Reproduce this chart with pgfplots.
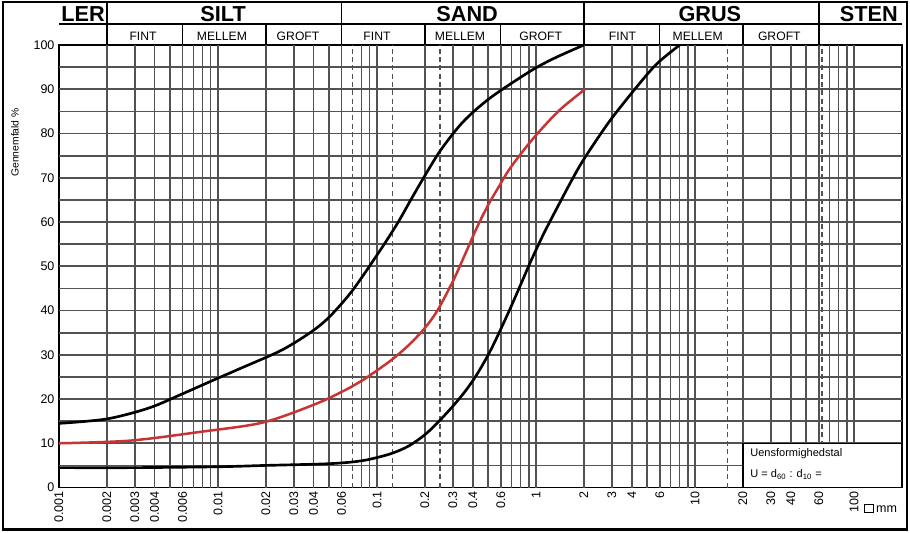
\documentclass[border=0pt]{standalone}
\usepackage{pgfplots}
\pgfplotsset{compat=1.18}
\usepackage{fontspec}
\setmainfont{Liberation Sans}
\definecolor{gridc}{gray}{0.32}
\definecolor{redc}{RGB}{200,52,52}

\pgfplotstableread{
d p
0.001 14.5
0.002 15.5
0.0037 18.0
0.006 21.2
0.009 24.0
0.014 27.0
0.025 31.0
0.038 35.0
0.05 38.5
0.07 44.5
0.1047 53.6
0.135 59.8
0.162 64.8
0.195 69.8
0.251 76.2
0.347 82.6
0.513 88.0
0.912 94.0
1.30 97.0
2.0 100
}\finetab
\pgfplotstableread{
d p
0.001 10.0
0.0028 10.6
0.0078 12.6
0.0192 14.7
0.0419 19.0
0.0678 22.6
0.0817 24.3
0.121 28.6
0.1585 32.2
0.1995 36.0
0.2399 40.0
0.302 46.8
0.357 52.6
0.4256 58.8
0.501 63.9
0.569 67.3
0.6855 72.1
0.916 78.0
1.202 82.8
1.479 86.0
2.03 90.0
}\midtab
\pgfplotstableread{
d p
0.001 4.5
0.003 4.5
0.01 4.7
0.02 5.0
0.0506 5.4
0.0817 6.1
0.121 7.6
0.1585 9.4
0.1995 11.9
0.2399 14.6
0.302 18.5
0.3631 22.0
0.4256 25.6
0.501 30.0
0.569 34.0
0.6855 40.3
0.813 46.4
0.916 50.7
1.072 56.0
1.219 60.0
1.641 68.8
2.0 74.2
2.917 82.9
4.498 91.4
5.848 96.0
8.0 100
}\coarsetab

\begin{document}
\begin{tikzpicture}
\begin{axis}[
  xmode=log, xmin=0.001, xmax=200, ymin=0, ymax=100,
  scale only axis, width=505.2pt, height=265.2pt,
  clip=false,
  axis line style={line width=0.9pt, black},
  ytick={0,10,20,30,40,50,60,70,80,90,100},
  xtick={0.001,0.002,0.003,0.004,0.006,0.01,0.02,0.03,0.04,0.06,0.1,0.2,0.3,0.4,0.6,1,2,3,4,6,10,20,30,40,60,100},
  xticklabels={0.001,0.002,0.003,0.004,0.006,0.01,0.02,0.03,0.04,0.06,0.1,0.2,0.3,0.4,0.6,1,2,3,4,6,10,20,30,40,60,100},
  major tick length=0pt, minor tick length=0pt,
  /pgf/number format/assume math mode=true,
  every tick label/.append style={font=\fontsize{7.5}{9}\selectfont},
  xticklabel style={rotate=90, anchor=east, inner sep=2pt},
  yticklabel style={inner sep=2.5pt},
]
% horizontal grid
\pgfplotsinvokeforeach{5,10,15,20,25,30,35,40,45,50,55,60,65,70,75,80,85,90,95}{
  \draw[gridc, line width=1pt] (axis cs:0.001,#1) -- (axis cs:200,#1);
}
% vertical grid solid
\pgfplotsinvokeforeach{0.002,0.003,0.004,0.005,0.006,0.007,0.008,0.009,0.01,0.02,0.03,0.04,0.05,0.06,0.08,0.09,0.1,0.2,0.3,0.4,0.5,0.6,0.7,0.8,0.9,1,2,3,4,5,6,7,8,9,10,20,30,40,50,60,70,80,90,100}{
  \draw[gridc, line width=0.95pt] (axis cs:#1,0) -- (axis cs:#1,100);
}
% vertical grid dashed
\pgfplotsinvokeforeach{0.07,0.125,0.25,16,63}{
  \draw[gridc, line width=0.95pt, dash pattern=on 3pt off 2pt] (axis cs:#1,0) -- (axis cs:#1,100);
}
% box
\draw[fill=white, line width=0.9pt] (axis cs:20,0) rectangle (axis cs:200,10);
\node[anchor=west, font=\fontsize{6.6}{7}\selectfont, inner sep=0pt] at (axis cs:22.2,7.6) {Uensformighedstal};
\node[anchor=west, font=\fontsize{6.6}{7}\selectfont, inner sep=0pt] at (axis cs:22.2,3.0) {U = d\textsubscript{60} : d\textsubscript{10} =};

% curves
\addplot[black, line width=1.6pt, smooth] table[x=d, y=p] {\finetab};
\addplot[redc, line width=1.5pt, smooth] table[x=d, y=p] {\midtab};
\addplot[black, line width=1.6pt, smooth] table[x=d, y=p] {\coarsetab};

% header
\draw[line width=0.9pt] (axis cs:0.001,104.75) -- (axis cs:200,104.75);
\pgfplotsinvokeforeach{0.002,0.06,2,60}{
  \draw[line width=0.9pt] (axis cs:#1,100) -- (axis cs:#1,109.73);
}
\pgfplotsinvokeforeach{0.006,0.02,0.2,0.6,6,20}{
  \draw[line width=0.9pt] (axis cs:#1,100) -- (axis cs:#1,104.75);
}
\tikzset{hb/.style={font=\fontsize{13}{14}\selectfont\bfseries, inner sep=0pt, anchor=center}}
\tikzset{hs/.style={font=\fontsize{7.3}{8}\selectfont, inner sep=0pt, anchor=center}}
\node[hb] at (axis cs:0.00142,106.9) {LER};
\node[hb] at (axis cs:0.01077,106.9) {SILT};
\node[hb] at (axis cs:0.369,106.9) {SAND};
\node[hb] at (axis cs:12.4,106.9) {GRUS};
\node[hb] at (axis cs:123.8,106.9) {STEN};
\node[hs] at (axis cs:0.00338,101.9) {FINT};
\node[hs] at (axis cs:0.0106,101.9) {MELLEM};
\node[hs] at (axis cs:0.0319,101.9) {GROFT};
\node[hs] at (axis cs:0.1,101.9) {FINT};
\node[hs] at (axis cs:0.333,101.9) {MELLEM};
\node[hs] at (axis cs:1.07,101.9) {GROFT};
\node[hs] at (axis cs:3.5,101.9) {FINT};
\node[hs] at (axis cs:10.4,101.9) {MELLEM};
\node[hs] at (axis cs:33.9,101.9) {GROFT};

% y label
\node[rotate=90, font=\fontsize{6.2}{7}\selectfont, inner sep=0pt] at (axis cs:0.000528,78) {Gennemfald \%};
% mm
\node[anchor=west, font=\fontsize{7.5}{9}\selectfont, inner sep=0pt] at (axis cs:115.6,-4.75) {{\setlength{\fboxsep}{0pt}\setlength{\fboxrule}{0.6pt}\fbox{\rule{0pt}{4.6pt}\rule{4.6pt}{0pt}}}\,mm};

% frame
\draw[line width=1.6pt] (axis cs:0.000444,-9.5) rectangle (axis cs:215.4,109.73);
\coordinate (BL) at (axis cs:0.000426,-10.18);
\coordinate (TR) at (axis cs:224.9,110.18);
\end{axis}
\pgfresetboundingbox
\useasboundingbox (BL) rectangle (TR);
\end{tikzpicture}
\end{document}
